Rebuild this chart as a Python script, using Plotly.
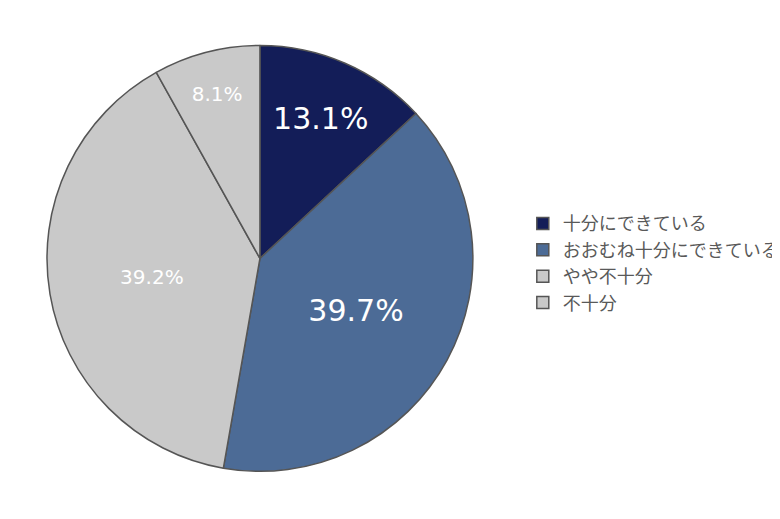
import plotly.graph_objects as go

labels = ["十分にできている", "おおむね十分にできている", "やや不十分", "不十分"]
values = [13.1, 39.7, 39.2, 8.1]
colors = ["#131D58", "#4C6B96", "#C9C9C9", "#C9C9C9"]
text_sizes = [30, 30, 20, 20]
texts = [f"{v}%" for v in values]

fig = go.Figure(go.Pie(
    labels=labels, values=values, sort=False, direction="clockwise", rotation=0,
    marker=dict(colors=colors, line=dict(color="#555555", width=1.5)),
    text=texts, textinfo="text", textposition="inside", insidetextorientation="horizontal",
    textfont=dict(color="white", size=text_sizes, family="DejaVu Sans"),
    domain=dict(x=[0.050, 0.596], y=[0.107, 0.928]),
    hoverinfo="skip",
))
fig.update_layout(
    width=780, height=519, margin=dict(l=0, r=0, t=0, b=0),
    paper_bgcolor="white", plot_bgcolor="white",
    legend=dict(x=0.66, y=0.62, xanchor="left", yanchor="top",
                font=dict(size=18, color="#595959", family="Noto Sans CJK JP"),
                itemwidth=30, tracegroupgap=8),
    font=dict(family="Noto Sans CJK JP"),
)
fig.write_html("out.html")
